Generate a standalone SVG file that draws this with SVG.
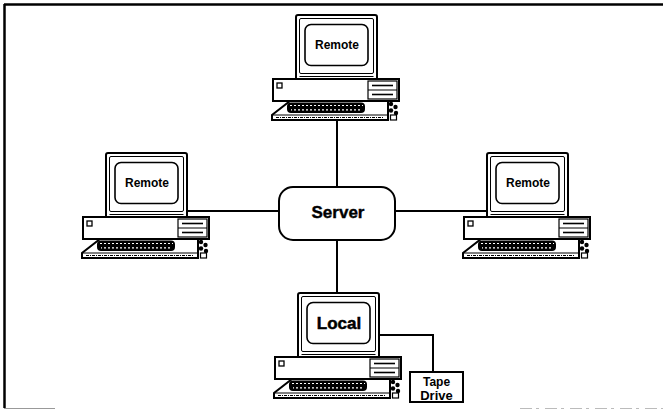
<svg xmlns="http://www.w3.org/2000/svg" xmlns:xlink="http://www.w3.org/1999/xlink" width="663" height="411" viewBox="0 0 663 411">
  <style>
    .ln { stroke: #000; fill: none; stroke-width: 2; }
    .lbl { font-family: "Liberation Sans", Arial, sans-serif; font-weight: bold; fill: #000; text-anchor: middle; }
  </style>
  <defs>
    <!-- desktop computer: origin at the monitor's top-left corner -->
    <g id="pc">
      <!-- monitor -->
      <rect x="0" y="0" width="81" height="65" rx="2" fill="#fff" stroke="#000" stroke-width="2"/>
      <rect x="3.5" y="3.5" width="74" height="55" rx="1.5" fill="none" stroke="#000" stroke-width="1"/>
      <rect x="9" y="9.5" width="63" height="41" rx="6" fill="#fff" stroke="#000" stroke-width="1.6"/>
      <line x1="3.5" y1="61.5" x2="77.5" y2="61.5" stroke="#000" stroke-width="1"/>
      <!-- system unit -->
      <rect x="-23" y="64" width="126" height="22" fill="#fff" stroke="#000" stroke-width="2"/>
      <rect x="-19" y="68" width="5" height="5" fill="#fff" stroke="#000" stroke-width="1.3"/>
      <rect x="72" y="66" width="29" height="18" fill="#fff" stroke="#000" stroke-width="1.2"/>
      <line x1="72" y1="75" x2="101" y2="75" stroke="#000" stroke-width="1"/>
      <line x1="76" y1="70.5" x2="97" y2="70.5" stroke="#000" stroke-width="1.6"/>
      <line x1="76" y1="79.5" x2="97" y2="79.5" stroke="#000" stroke-width="1.6"/>
      <!-- keyboard with slanted left end -->
      <path d="M-6,86 L92,86 L92,105 L-24,105 L-24,100 Z" fill="#fff" stroke="#000" stroke-width="2"/>
      <line x1="-23" y1="100" x2="92" y2="100" stroke="#000" stroke-width="1"/>
      <line x1="-20" y1="102.5" x2="88" y2="102.5" stroke="#000" stroke-width="1" stroke-dasharray="3,1,1,1"/>
      <rect x="-9" y="87.5" width="78" height="10.5" rx="4" fill="#000"/>
      <line x1="-6" y1="90.5" x2="67" y2="90.5" stroke="#fff" stroke-width="1.2" stroke-dasharray="2,2"/>
      <line x1="-5" y1="94.8" x2="66" y2="94.8" stroke="#fff" stroke-width="1.2" stroke-dasharray="2,2" stroke-dashoffset="1"/>
      <!-- control knobs at the right end -->
      <circle cx="95" cy="89" r="2.2" fill="#000"/>
      <circle cx="99.5" cy="92" r="2.2" fill="#000"/>
      <circle cx="95" cy="95.5" r="2.2" fill="#000"/>
      <circle cx="100" cy="98" r="2.2" fill="#000"/>
      <rect x="94.5" y="100" width="6" height="5" fill="#fff" stroke="#000" stroke-width="1.2"/>
    </g>
  </defs>

  <rect x="0" y="0" width="663" height="411" fill="#fff"/>

  <!-- frame -->
  <g id="frame">
    <line x1="4" y1="4.5" x2="663" y2="4.5" stroke="#000" stroke-width="2.5"/>
    <line x1="4.5" y1="4" x2="4.5" y2="408" stroke="#000" stroke-width="2.5"/>
    <line x1="4" y1="408.5" x2="55" y2="408.5" stroke="#999" stroke-width="1.2"/>
    <line x1="520" y1="408.5" x2="663" y2="408.5" stroke="#bbb" stroke-width="1" stroke-dasharray="12,4,3,6"/>
  </g>

  <!-- connectors -->
  <g id="connectors" class="ln">
    <line x1="337" y1="121" x2="337" y2="187"/>
    <line x1="337" y1="240" x2="337" y2="293"/>
    <line x1="188" y1="211" x2="279" y2="211"/>
    <line x1="395" y1="211" x2="487" y2="211"/>
    <polyline points="379,335 433,335 433,372"/>
  </g>

  <g id="server">
    <rect x="279" y="187" width="116" height="53" rx="14" fill="#fff" stroke="#000" stroke-width="2"/>
    <text class="lbl" x="338" y="218" font-size="17" font-weight="normal" stroke="#000" stroke-width="0.4">Server</text>
  </g>

  <g id="remote-top">
    <use xlink:href="#pc" x="296" y="15"/>
    <text class="lbl" x="337" y="49" font-size="12">Remote</text>
  </g>

  <g id="remote-left">
    <use xlink:href="#pc" x="106" y="153"/>
    <text class="lbl" x="147" y="187" font-size="12">Remote</text>
  </g>

  <g id="remote-right">
    <use xlink:href="#pc" x="487" y="153"/>
    <text class="lbl" x="528" y="187" font-size="12">Remote</text>
  </g>

  <g id="local">
    <use xlink:href="#pc" x="298" y="293"/>
    <text class="lbl" x="339" y="329" font-size="17" font-weight="normal" stroke="#000" stroke-width="0.5">Local</text>
  </g>

  <g id="tape-drive">
    <rect x="410" y="372" width="53" height="30" fill="#fff" stroke="#000" stroke-width="2"/>
    <text class="lbl" x="436.5" y="386" font-size="12" font-weight="normal">Tape</text>
    <text class="lbl" x="436.5" y="400" font-size="13" font-weight="normal">Drive</text>
  </g>
</svg>
